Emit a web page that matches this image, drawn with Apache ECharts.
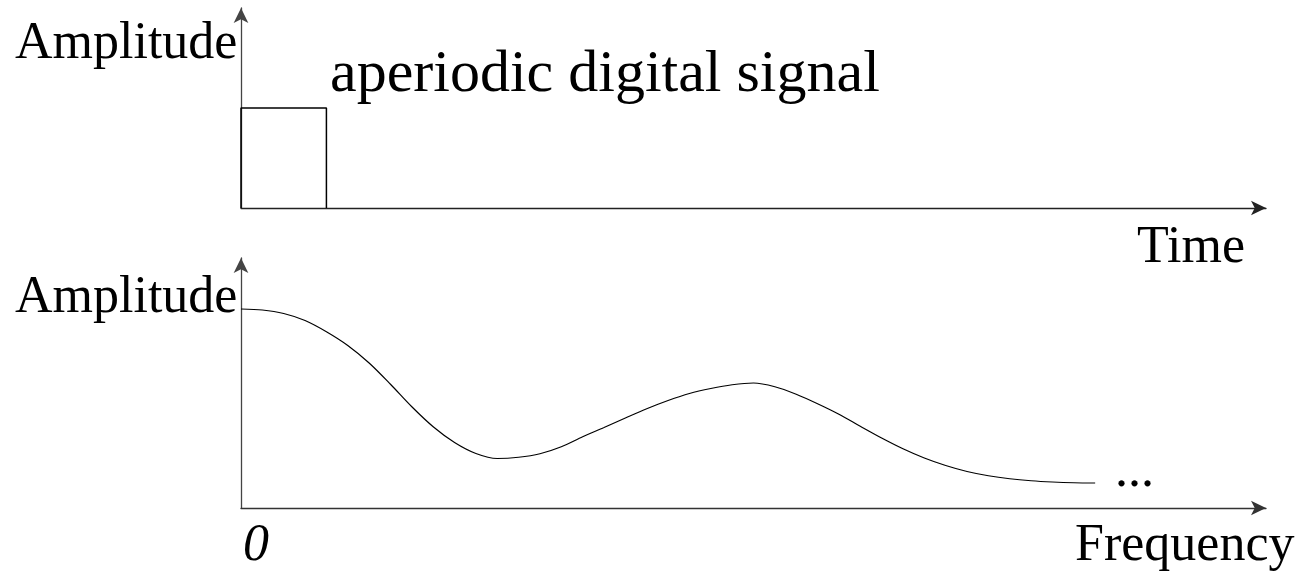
<!DOCTYPE html>
<html>
<head>
<meta charset="utf-8">
<script src="https://cdn.jsdelivr.net/npm/echarts@6/dist/echarts.min.js"></script>
<style>
html,body{margin:0;padding:0;background:#fff;}
#chart{width:1302px;height:573px;}
</style>
</head>
<body>
<div id="chart"></div>
<script>
// Top panel: aperiodic digital signal (single rectangular pulse)
const timeX = [0, 0, 1, 1];
const pulseY = [0, 1, 1, 0];

// Bottom panel: amplitude spectrum
const freqX = [0, 0.25, 0.5, 0.75, 1, 1.25, 1.5, 1.75, 2, 2.25, 2.5, 2.75, 3, 3.25, 3.5, 3.75, 4, 4.25, 4.5, 4.75,
               5, 5.25, 5.5, 5.75, 6, 6.25, 6.5, 6.75, 7, 7.25, 7.5, 7.75, 8, 8.25, 8.5, 8.75, 9, 9.25, 9.5, 9.75, 10];
const ampY  = [7.96, 7.92, 7.78, 7.5, 7.05, 6.5, 5.8, 4.95, 4.05, 3.25, 2.62, 2.18, 1.98, 2.03, 2.17, 2.45, 2.85, 3.22, 3.6, 3.97,
               4.3, 4.58, 4.78, 4.93, 5.0, 4.85, 4.55, 4.17, 3.75, 3.27, 2.8, 2.37, 2.0, 1.7, 1.46, 1.29, 1.17, 1.09, 1.04, 1.01, 1.0];

// Text labels
const titleText = 'aperiodic digital signal';
const yName = 'Amplitude';
const xNameTop = 'Time';
const xNameBottom = 'Frequency';
const originLabel = '0';
const ellipsis = '...';

const serif = "'Liberation Serif', 'Times New Roman', serif";

function axisLine(color) {
  return {
    show: true,
    onZero: false,
    symbol: ['none', 'arrow'],
    symbolSize: [11, 15],
    lineStyle: { color: color, width: 1.3 }
  };
}
const hidden = { show: false };

function txt(text, x, y, size, opts) {
  opts = opts || {};
  return {
    type: 'text',
    silent: true,
    style: {
      text: text,
      x: x, y: y,
      font: (opts.italic ? 'italic ' : '') + size + 'px ' + serif,
      fill: '#000',
      align: opts.align || 'left',
      textAlign: opts.align || 'left',
      verticalAlign: 'middle',
      textVerticalAlign: 'middle'
    }
  };
}

const chart = echarts.init(document.getElementById('chart'));
chart.setOption({
  backgroundColor: '#fff',
  animation: false,
  grid: [
    { left: 241, right: 36, top: 8, bottom: 365 },
    { left: 241, right: 36, top: 258, bottom: 65 }
  ],
  xAxis: [
    { type: 'value', gridIndex: 0, min: 0, max: 12, axisLine: axisLine('#222'), axisTick: hidden, axisLabel: hidden, splitLine: hidden },
    { type: 'value', gridIndex: 1, min: 0, max: 12, axisLine: axisLine('#333'), axisTick: hidden, axisLabel: hidden, splitLine: hidden }
  ],
  yAxis: [
    { type: 'value', gridIndex: 0, min: 0, max: 2, axisLine: axisLine('#444'), axisTick: hidden, axisLabel: hidden, splitLine: hidden },
    { type: 'value', gridIndex: 1, min: 0, max: 10, axisLine: axisLine('#444'), axisTick: hidden, axisLabel: hidden, splitLine: hidden }
  ],
  series: [
    {
      type: 'line', xAxisIndex: 0, yAxisIndex: 0,
      data: timeX.map((x, i) => [x, pulseY[i]]),
      symbol: 'none',
      lineStyle: { color: '#000', width: 1.5 }
    },
    {
      type: 'line', xAxisIndex: 1, yAxisIndex: 1,
      data: freqX.map((x, i) => [x, ampY[i]]),
      symbol: 'none', smooth: 0.3,
      lineStyle: { color: '#000', width: 1.2 }
    }
  ],
  graphic: [
    txt(yName, 15, 44, 52),
    txt(titleText, 330, 75, 60),
    txt(xNameTop, 1245, 248, 52, { align: 'right' }),
    txt(yName, 15, 298, 52),
    txt(ellipsis, 1115, 472, 52),
    txt(originLabel, 243, 546, 52, { italic: true }),
    txt(xNameBottom, 1075, 546, 52)
  ]
});
</script>
</body>
</html>
